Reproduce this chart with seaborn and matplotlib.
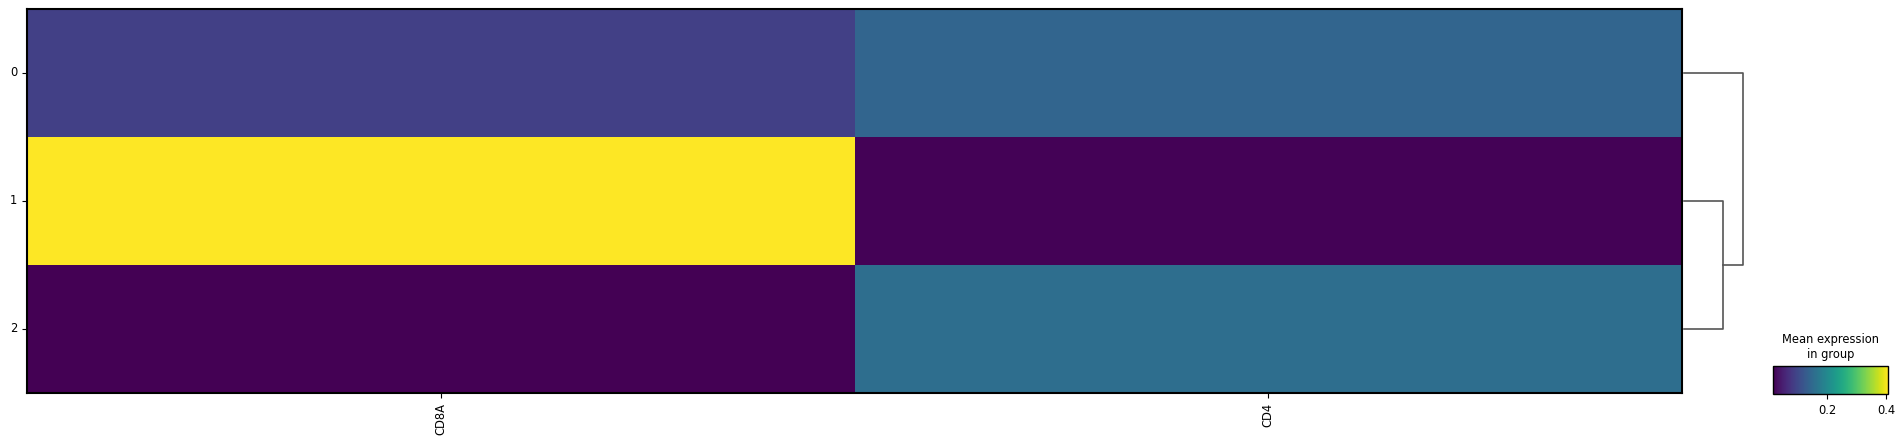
"""Matrixplot of mean expression per group with a group dendrogram."""
import matplotlib
matplotlib.use("Agg")
import matplotlib.pyplot as plt
import numpy as np
import pandas as pd
import seaborn as sns

groups = ["0", "1", "2"]
genes = ["CD8A", "CD4"]
cd8a = [0.091, 0.407, 0.017]
cd4 = [0.142, 0.019, 0.156]

# dendrogram over groups: (1, 2) merge first, then 0 joins
inner_height = 0.66
outer_height = 1.0

W, H = 1904, 446
FS = 8.3
fig = plt.figure(figsize=(W / 100, H / 100), dpi=100)


def box(x0, y0, x1, y1):
    return [x0 / W, 1 - y1 / H, (x1 - x0) / W, (y1 - y0) / H]


ax = fig.add_axes(box(27, 9, 1682, 393))
df = pd.DataFrame({"CD8A": cd8a, "CD4": cd4}, index=groups)[genes]
sns.heatmap(df, cmap="viridis", cbar=False, ax=ax,
            vmin=df.values.min(), vmax=df.values.max())
for s in ax.spines.values():
    s.set_visible(True)
    s.set_linewidth(1.5)
    s.set_color("black")
ax.tick_params(axis="both", labelsize=FS, length=3.5, width=0.8)
ax.set_xticklabels(genes, rotation=90)
ax.set_yticklabels(groups, rotation=0)
ax.set_xlabel("")
ax.set_ylabel("")

# dendrogram
dax = fig.add_axes(box(1684, 9, 1743, 393))
dax.set_ylim(ax.get_ylim())
dax.set_xlim(0, outer_height)
dax.axis("off")
y0, y1, y2 = 0.5, 1.5, 2.5
ymid = (y1 + y2) / 2
kw = dict(color="#555555", lw=1.2, clip_on=False)
dax.plot([0, inner_height, inner_height, 0], [y1, y1, y2, y2], **kw)
dax.plot([0, outer_height, outer_height, inner_height], [y0, y0, ymid, ymid], **kw)

# colorbar
cax = fig.add_axes(box(1773, 366, 1888, 394))
cb = fig.colorbar(ax.collections[0], cax=cax, orientation="horizontal")
cb.outline.set_linewidth(1)
cax.tick_params(labelsize=FS, length=3.5, width=0.8)
cax.set_title("Mean expression\nin group", fontsize=FS)

fig.savefig("out.png", dpi=100)
